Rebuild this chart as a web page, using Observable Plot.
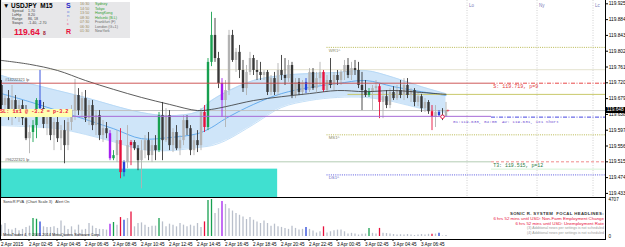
<!DOCTYPE html>
<html><head><meta charset="utf-8">
<script src="https://cdn.jsdelivr.net/npm/d3@7"></script>
<script src="https://cdn.jsdelivr.net/npm/@observablehq/plot@0.6"></script>
<style>
body{margin:0;background:#fff;font-family:"Liberation Sans",Arial,sans-serif;}
#wrap{position:relative;width:625px;height:247px;overflow:hidden;background:#fff;}
#main{position:absolute;left:0;top:0;}
#vol{position:absolute;left:0;top:196px;}
.ov{position:absolute;white-space:nowrap;line-height:1;font-family:"Liberation Sans",Arial,sans-serif;}
.mono{font-family:"Liberation Mono","DejaVu Sans Mono",monospace;}
</style></head><body>
<div id="wrap"><div id="main"></div><div id="vol"></div><div id="ovl"></div></div>
<script>
// ---------------- DATA ----------------
const opens = [119.713,119.661,119.679,119.648,119.674,119.643,119.661,119.627,119.575,119.591,
119.609,119.674,119.653,119.612,119.635,119.583,119.617,119.575,119.596,119.557,
119.617,119.648,119.687,119.648,119.679,119.627,119.661,119.609,119.635,119.583,
119.601,119.588,119.523,119.531,119.570,119.487,119.513,119.557,119.565,119.549,
119.518,119.544,119.570,119.531,119.557,119.544,119.635,119.570,119.635,119.557,
119.591,119.549,119.570,119.622,119.601,119.544,119.570,119.557,119.643,119.604,
119.773,119.843,119.783,119.718,119.674,119.700,119.843,119.778,119.799,119.752,
119.705,119.747,119.783,119.752,119.747,119.739,119.747,119.695,119.731,119.695,
119.752,119.739,119.731,119.765,119.687,119.721,119.695,119.721,119.700,119.747,
119.705,119.731,119.747,119.700,119.726,119.713,119.739,119.726,119.747,119.765,
119.739,119.757,119.752,119.713,119.700,119.687,119.695,119.705,119.710,119.669,
119.684,119.661,119.695,119.679,119.700,119.687,119.713,119.687,119.700,119.669,
119.684,119.653,119.669,119.645,119.630,119.643,119.635,119.632];
const highs = [119.726,119.687,119.700,119.713,119.687,119.674,119.674,119.661,119.609,119.622,
119.679,119.752,119.669,119.643,119.648,119.627,119.635,119.609,119.622,119.627,
119.661,119.729,119.705,119.695,119.700,119.674,119.674,119.648,119.648,119.622,
119.617,119.596,119.544,119.596,119.601,119.518,119.609,119.570,119.570,119.557,
119.570,119.583,119.591,119.570,119.583,119.643,119.669,119.653,119.648,119.601,
119.609,119.583,119.635,119.635,119.609,119.583,119.596,119.653,119.661,119.783,
119.903,119.887,119.799,119.731,119.726,119.856,119.856,119.809,119.817,119.778,
119.765,119.799,119.791,119.778,119.773,119.752,119.752,119.739,119.747,119.770,
119.791,119.783,119.778,119.773,119.731,119.731,119.726,119.731,119.757,119.757,
119.747,119.773,119.752,119.739,119.783,119.747,119.752,119.752,119.778,119.783,
119.773,119.778,119.773,119.747,119.726,119.705,119.713,119.726,119.716,119.695,
119.700,119.705,119.710,119.713,119.726,119.731,119.731,119.705,119.705,119.695,
119.690,119.679,119.674,119.661,119.661,119.648,119.653,119.669];
const lows = [119.648,119.635,119.622,119.609,119.627,119.617,119.609,119.570,119.536,119.565,
119.575,119.645,119.601,119.583,119.570,119.544,119.565,119.544,119.510,119.544,
119.596,119.622,119.635,119.627,119.617,119.609,119.596,119.583,119.570,119.565,
119.575,119.518,119.518,119.513,119.471,119.476,119.497,119.505,119.544,119.492,
119.445,119.523,119.518,119.513,119.518,119.539,119.518,119.565,119.544,119.539,
119.544,119.531,119.557,119.583,119.531,119.531,119.539,119.544,119.591,119.596,
119.762,119.773,119.705,119.630,119.604,119.687,119.773,119.747,119.731,119.695,
119.687,119.739,119.739,119.726,119.726,119.726,119.687,119.687,119.687,119.687,
119.726,119.713,119.721,119.679,119.679,119.687,119.687,119.692,119.695,119.700,
119.695,119.713,119.695,119.695,119.705,119.700,119.713,119.713,119.726,119.731,
119.726,119.739,119.705,119.648,119.682,119.682,119.648,119.695,119.627,119.627,
119.653,119.653,119.674,119.674,119.679,119.674,119.679,119.669,119.658,119.658,
119.643,119.643,119.638,119.596,119.604,119.632,119.622,119.630];
const closes = [119.661,119.679,119.648,119.674,119.643,119.661,119.627,119.575,119.591,119.609,
119.674,119.653,119.612,119.635,119.583,119.617,119.575,119.596,119.557,119.617,
119.648,119.687,119.648,119.679,119.627,119.661,119.609,119.635,119.583,119.601,
119.588,119.523,119.531,119.570,119.487,119.513,119.557,119.565,119.549,119.518,
119.544,119.570,119.531,119.557,119.544,119.635,119.570,119.635,119.557,119.591,
119.549,119.570,119.622,119.601,119.544,119.570,119.557,119.643,119.604,119.773,
119.843,119.783,119.718,119.674,119.700,119.843,119.778,119.799,119.752,119.705,
119.747,119.783,119.752,119.747,119.739,119.747,119.695,119.731,119.695,119.752,
119.739,119.731,119.765,119.687,119.721,119.695,119.721,119.700,119.747,119.705,
119.731,119.747,119.700,119.726,119.713,119.739,119.726,119.747,119.765,119.739,
119.757,119.752,119.713,119.700,119.687,119.695,119.705,119.710,119.669,119.684,
119.661,119.695,119.679,119.700,119.687,119.713,119.687,119.700,119.669,119.684,
119.653,119.669,119.645,119.630,119.643,119.635,119.632,119.648];
const volumes = [1443,1657,904,816,1029,728,904,1155,1318,2284,
2196,1857,1230,1155,1155,1230,1029,1983,1318,904,
1230,816,1443,816,904,1657,1318,1029,904,904,
816,1569,1782,1443,2410,2071,2284,3112,1230,1657,
1732,1443,1155,1318,1318,2284,1857,1230,1569,1443,
1230,1657,1443,1230,1443,1318,1657,1155,1857,4581,
4707,2912,3539,4455,4079,3539,3238,2912,2698,2485,
2159,2410,2071,1857,1657,1983,1657,1318,1569,1230,
1155,1029,904,1318,1029,816,904,1155,904,690,
439,602,1230,439,602,728,816,816,602,314,
402,314,188,276,314,1029,402,314,1029,402,
377,314,251,188,226,188,251,188,126,188,
251,188,276,276,314,402,60,126];
const greenBars = [9,10,32,45,59,60,105];
const redBars = [34,37,58,92,108,123];
const blueBars = [11,35,87,125];
const purpleBars = [31,63];

// indicator control points (bar index)
const indBars   = [0,8,16,24,32,40,48,56,60,64,72,80,88,96,104,112,120,127];
const bandHigh  = [119.739,119.718,119.700,119.682,119.661,119.643,119.635,119.645,119.674,119.695,119.726,119.739,119.744,119.747,119.752,119.734,119.710,119.692];
const bandLow   = [119.609,119.606,119.601,119.586,119.567,119.547,119.544,119.552,119.557,119.570,119.612,119.656,119.674,119.682,119.682,119.671,119.653,119.643];
const dragonMid = [119.692,119.671,119.648,119.625,119.601,119.575,119.578,119.588,119.604,119.627,119.664,119.692,119.708,119.718,119.726,119.710,119.697,119.687];
const maSlow    = [119.778,119.768,119.752,119.726,119.703,119.682,119.664,119.648,119.651,119.658,119.674,119.684,119.692,119.700,119.697,119.700,119.695,119.690];

const priceTicks = [119.925,119.884,119.843,119.802,119.761,119.720,119.679,119.638,119.597,119.556,119.515,119.474,119.433];
const tickBars = [0,8,16,24,32,40,48,56,64,72,80,88,96,104,112,120];
const timeLabels = ["2 Apr 2015","2 Apr 02:45","2 Apr 04:45","2 Apr 06:45","2 Apr 08:45","2 Apr 10:45","2 Apr 12:45","2 Apr 14:45","2 Apr 16:45","2 Apr 18:45","2 Apr 20:45","2 Apr 22:45","3 Apr 00:45","3 Apr 02:45","3 Apr 04:45","3 Apr 06:45"];
const sessionBars = [133,153,169];
const sessionNames = ["Lo","Ny","Lc"];

// levels
const pivotNames = ["WR1^","MS1^","DS1^"];
const pivotPrices = [119.812,119.585,119.481];
const pivotColors = ["#b8b850","#b8b850","#5a5ae0"];
const pivotStart = 93;
const splitBar = 140;
const lightLevel = 119.754;
const sLevel = 119.719;
const oliveLevel = 119.690;
const bidPrice = 119.648;
const avgEntry = 119.633;
const avgLevel = 119.631;
const t3Level = 119.515;
const t3Pale = 119.496;
const zone = {x1: -0.3, x2: 78.9, y1: 119.4224, y2: 119.496};
const volMax = 4707;

// ---------------- BUILD ----------------
const xMin = -1/3.5, xMax = 604/3.5;
const yMin = 119.4224, yMax = 119.9336;
const COL = {green:"#17a050", red:"#e8103c", blue:"#2442d8", purple:"#a51ff0", bull:"#b2b2b2", bear:"#383838", vol:"#b9bfcb"};
function special(i){
  if (greenBars.includes(i)) return COL.green;
  if (redBars.includes(i)) return COL.red;
  if (blueBars.includes(i)) return COL.blue;
  if (purpleBars.includes(i)) return COL.purple;
  return null;
}
const bars = opens.map((o,i)=>({i, o, h:highs[i], l:lows[i], c:closes[i], v:volumes[i],
  col: special(i) || (closes[i] >= o ? COL.bull : COL.bear),
  vcol: special(i) || COL.vol}));
const ind = indBars.map((b,k)=>({i:b, hi:bandHigh[k], lo:bandLow[k], mid:dragonMid[k], ma:maSlow[k]}));
const FONT = "Liberation Sans, Arial, sans-serif";
const MONO = "Liberation Mono, DejaVu Sans Mono, monospace";

const main = Plot.plot({
  width: 625, height: 197, marginLeft: 0, marginRight: 20, marginTop: 0, marginBottom: 0,
  style: {fontFamily: FONT, background: "#fff", overflow: "visible"},
  x: {domain: [xMin, xMax], axis: null, label: null},
  y: {domain: [yMin, yMax], axis: null, label: null},
  color: {type: "identity"},
  marks: [
    Plot.rect([zone], {x1:"x1", x2:"x2", y1:"y1", y2:"y2", fill:"#40e0d0"}),
    Plot.areaY(ind, {x:"i", y1:"lo", y2:"hi", fill:"#cfe5f9", curve:"catmull-rom"}),
    Plot.line(ind, {x:"i", y:"hi", stroke:"#acd2f3", strokeWidth:0.7, curve:"catmull-rom"}),
    Plot.line(ind, {x:"i", y:"lo", stroke:"#acd2f3", strokeWidth:0.7, curve:"catmull-rom"}),
    Plot.line(ind, {x:"i", y:"mid", stroke:"#3a93e6", strokeWidth:0.7, curve:"catmull-rom"}),
    // session verticals
    Plot.ruleX(sessionBars, {stroke:"#c4c4c4", strokeDasharray:"1,1.5", strokeWidth:0.8}),
    Plot.text(sessionBars, {x:d=>d, text:(d)=>sessionNames[sessionBars.indexOf(d)], frameAnchor:"top", dy:3, dx:2, textAnchor:"start", fontSize:4.5, fill:"#7a7ab8", fontFamily:FONT}),
    // horizontal levels
    Plot.ruleY([lightLevel], {x1:xMin, x2:xMax, stroke:"#e4e2cf", strokeWidth:1}),
    Plot.ruleY(pivotPrices, {x1:pivotStart, x2:xMax, stroke:(d)=>pivotColors[pivotPrices.indexOf(d)], strokeDasharray:"1,1.2", strokeWidth:1}),
    Plot.ruleY([oliveLevel], {x1:99, x2:xMax, stroke:"#c9c96a", strokeWidth:1}),
    Plot.ruleY([bidPrice], {x1:xMin, x2:xMax, stroke:"#c2c2c2", strokeWidth:1}),
    Plot.ruleY([t3Level], {x1:xMin, x2:splitBar, stroke:"#b4ccb4", strokeWidth:1}),
    Plot.ruleY([t3Pale], {x1:splitBar, x2:xMax, stroke:"#d4f2d4", strokeWidth:1}),
    Plot.ruleY([t3Level], {x1:splitBar, x2:xMax, stroke:"#f08a8a", strokeDasharray:"3,2", strokeWidth:1}),
    // candles
    Plot.ruleX(bars, {x:"i", y1:"l", y2:"h", stroke:"col", strokeWidth:0.9}),
    Plot.ruleX(bars, {x:"i", y1:"o", y2:"c", stroke:"col", strokeWidth:2.4}),
    Plot.line(ind, {x:"i", y:"ma", stroke:"#333", strokeWidth:0.8, curve:"catmull-rom"}),
    // trade lines over candles
    Plot.ruleY([sLevel], {x1:xMin, x2:splitBar, stroke:"#c84646", strokeWidth:0.9}),
    Plot.ruleY([sLevel], {x1:splitBar, x2:xMax, stroke:"#e84848", strokeDasharray:"4,1.5,1,1.5", strokeWidth:1}),
    Plot.ruleY([avgEntry], {x1:xMin, x2:splitBar, stroke:"#a66ad6", strokeWidth:1}),
    Plot.ruleY([avgLevel], {x1:splitBar, x2:xMax, stroke:"#4545e0", strokeDasharray:"4,1.5,1,1.5", strokeWidth:1}),
    // labels
    Plot.text(pivotPrices, {x:pivotStart + 0.5, y:d=>d, text:(d)=>pivotNames[pivotPrices.indexOf(d)], dy:3, textAnchor:"start", fontSize:4.3, fill:(d)=>pivotPrices.indexOf(d)===2?"#6a6ac8":"#8c8c6a", fontFamily:FONT}),
    Plot.text([sLevel], {x:splitBar + 0.5, y:d=>d, text:d=>"S: " + d.toFixed(3) + ", p=9", dy:3.5, textAnchor:"start", fontSize:5, fill:"#e03a3a", fontFamily:MONO}),
    Plot.text([avgLevel], {x:129, y:d=>d, text:d=>"01:" + avgEntry.toFixed(3) + ", 04:00  AV: " + d.toFixed(3) + ", 1x1 Short", dy:4.5, textAnchor:"start", fontSize:4.3, fill:"#7452d4", fontFamily:MONO}),
    Plot.text([t3Level], {x:splitBar + 0.5, y:d=>d, text:d=>"T3: " + d.toFixed(3) + ", p=12", dy:3.8, textAnchor:"start", fontSize:4.9, fill:"#2a7a3e", fontFamily:MONO}),
    Plot.text([sLevel], {x:1, y:d=>d, text:()=>"#14222321 lp", dy:-3, textAnchor:"start", fontSize:4, fill:"#555", fontFamily:FONT}),
    Plot.text([t3Level], {x:1, y:d=>d, text:()=>"#96222321 lp", dy:-2.5, textAnchor:"start", fontSize:4, fill:"#555", fontFamily:FONT}),
    // current marks
    Plot.dot([bars[126]], {x:"i", y:"c", r:1.8, stroke:"#e8103c", fill:"#fff", strokeWidth:0.9}),
    Plot.text([bars[127]], {x:d=>d.i + 0.6, y:d=>d.c, text:()=>"+", fontSize:6, fill:"#e8103c", fontFamily:FONT}),
    // borders & axis
    Plot.ruleX([xMin], {stroke:"#000", strokeWidth:1.2}),
    Plot.ruleX([xMax], {stroke:"#000", strokeWidth:1}),
    Plot.axisY(priceTicks, {anchor:"right", tickSize:2, tickPadding:1.2, fontSize:4.8, tickFormat:d=>d.toFixed(3), fill:"#000", stroke:"#000", fontFamily:FONT, label:null})
  ]
});
document.getElementById("main").appendChild(main);

const labelMap = new Map(tickBars.map((b,k)=>[b, timeLabels[k]]));
const vol = Plot.plot({
  width: 625, height: 51, marginLeft: 0, marginRight: 20, marginTop: 1, marginBottom: 8,
  style: {fontFamily: FONT, background: "transparent", overflow: "visible"},
  x: {domain: [xMin, xMax], axis: null, label: null},
  y: {domain: [-382, 4961], axis: null, label: null},
  color: {type: "identity"},
  marks: [
    Plot.ruleX(bars, {x:"i", y1:0, y2:"v", stroke:"vcol", strokeWidth:1.3}),
    Plot.frame({stroke:"#000", strokeWidth:1}),
    Plot.axisY([0, volMax], {anchor:"right", tickSize:0, tickPadding:3, fontSize:4.6, tickFormat:d=>String(d), fontFamily:FONT, label:null}),
    Plot.axisX(tickBars, {anchor:"bottom", tickSize:2, tickPadding:1, textAnchor:"start", fontSize:4.6, tickFormat:d=>labelMap.get(d), fontFamily:FONT, label:null, dx:-0.5})
  ]
});
document.getElementById("vol").appendChild(vol);

// ---------------- OVERLAYS (text) ----------------
const yS = main.scale("y");
const ov = document.getElementById("ovl");
function add(html, css){ const d = document.createElement("div"); d.className = "ov"; d.style.cssText = css; d.innerHTML = html; ov.appendChild(d); return d; }
// info box
add("", "left:2px;top:2px;width:128px;height:36px;background:#e7e7e9;");
add("&#9660; USDJPY&nbsp;&nbsp;M15", "left:3px;top:3px;font-weight:bold;font-size:6.4px;color:#000;");
const infoL = ["Spread","LoHip","Range","Swaps"], infoV = ["1.70","8.20","86, 18","-1.40, -2.70"];
infoL.forEach((t,k)=>{ add(t, `left:12px;top:${10+k*4.1}px;font-size:3.6px;color:#444;`); add(infoV[k], `left:28px;top:${10+k*4.1}px;font-size:3.6px;color:#444;`); });
add("119.64", "left:14px;top:27.5px;font-weight:bold;font-size:8.6px;color:#e8103c;");
add("8", "left:43px;top:30.5px;font-size:5px;color:#a01030;font-weight:bold;");
const sonic = [["S","#2626c8",7,2.3,true],["o","#5e82e0",4.2,9.5,false],["n","#5e8ad4",4.2,13.6,false],["i","#e27aa2",4.2,17.7,false],["c","#e2457c",4.2,21.8,false],["R","#e8103c",7,27.6,true]];
sonic.forEach(s=>add(s[0], `left:${s[4]?66:67}px;top:${s[3]}px;font-size:${s[2]}px;color:${s[1]};font-weight:${s[4]?'bold':'normal'};`));
const sessTimes = ["16:30","14:50","13:50","08:30","07:30","06:30","01:30"];
const sessPlaces = ["Sydney","Tokyo","HongKong","Helsinki (B.L)","Frankfurt (F)","London (G+1)","NewYork"];
sessTimes.forEach((t,k)=>{ add(t, `left:80px;top:${3.2+k*4.5}px;font-size:3.7px;color:#9a8a5a;`);
  add(sessPlaces[k], `left:95px;top:${3.2+k*4.5}px;font-size:3.7px;color:${k<4?'#2e9e2e':'#6a6a6a'};`); });
// SL box
add("SL: 1x1 @ -3.2 = p-3.2", "left:0px;top:108.5px;width:72px;height:8.5px;background:#ffffb0;color:#e8103c;font-size:5.2px;padding-top:1.6px;box-sizing:border-box;font-weight:bold;", ).classList.add("mono");
// current price box
add(bidPrice.toFixed(3), `left:605.5px;top:${yS.apply(bidPrice)-3.2}px;width:19.5px;height:6.4px;background:#000;color:#fff;font-size:4.8px;padding-top:0.8px;padding-left:1.2px;box-sizing:border-box;`);
// volume panel texts
add("SonicR PVA &nbsp;(Chart Scale 3) &nbsp; Alert On", "left:3px;top:199.5px;font-size:3.9px;color:#333;");
add("MetaTrader 4, &copy; 2001-2014 MetaQuotes Software Corp.", "left:3px;top:233.2px;font-size:3.9px;color:#111;");
const news = [["SONIC R. SYSTEM &nbsp;FOCAL HEADLINES:","#333",4.3,211.8,"bold","0.35px"],
  ["6 hrs 52 mins until USD: Non-Farm Employment Change","#e8103c",4.4,217.2,"normal","0"],
  ["6 hrs 52 mins until USD: Unemployment Rate","#e8103c",4.4,222,"normal","0"],
  ["(3) Additional news per settings is not scheduled","#9a9a9a",3.6,227.2,"normal","0"],
  ["(4) Additional news per settings is not scheduled","#9a9a9a",3.6,231.6,"normal","0"]];
news.forEach(n=>add(n[0], `right:${625-604}px;top:${n[3]}px;font-size:${n[2]}px;color:${n[1]};font-weight:${n[4]};letter-spacing:${n[5]};text-align:right;`));
</script>
</body></html>
